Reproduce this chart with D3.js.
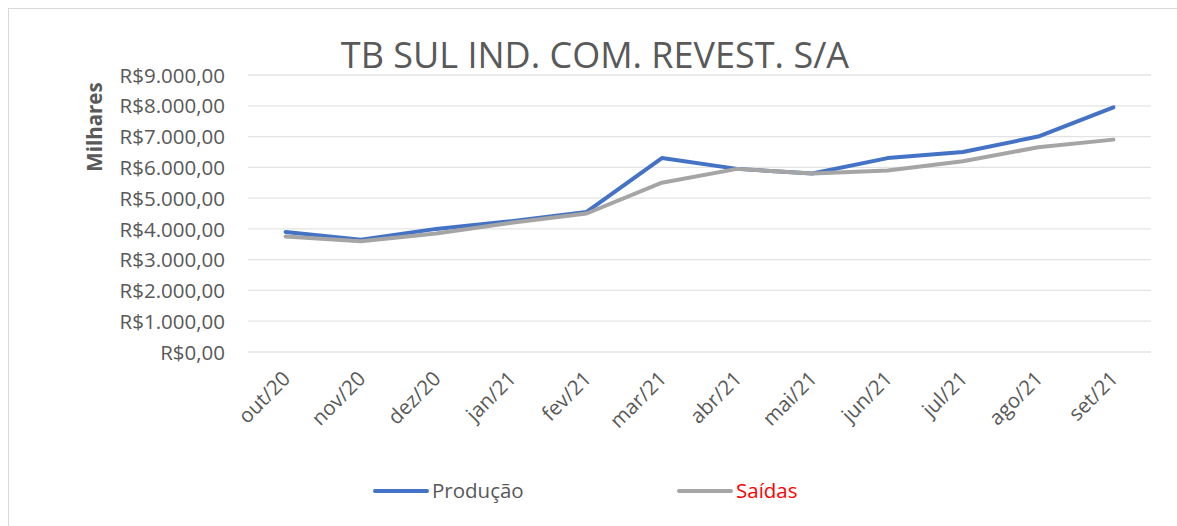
<!DOCTYPE html>
<html><head><meta charset="utf-8">
<script src="https://cdn.jsdelivr.net/npm/d3@7"></script>
<style>body{margin:0;background:#fff}svg{display:block}</style>
</head><body>
<svg id="c" width="1177" height="526"></svg>
<script>
const categories = ["out/20","nov/20","dez/20","jan/21","fev/21","mar/21","abr/21","mai/21","jun/21","jul/21","ago/21","set/21"];
const producao = [3900,3650,4000,4250,4550,6300,5950,5800,6300,6500,7000,7950];
const saidas   = [3750,3600,3850,4200,4500,5500,5950,5800,5900,6200,6650,6900];
const yTicks = [0,1000,2000,3000,4000,5000,6000,7000,8000,9000];
const seriesNames = ["Produção","Saídas"];
const title = "TB SUL IND. COM. REVEST. S/A";
const axisTitle = "Milhares";

const svg = d3.select("#c");
const font = "Open Sans, Noto Sans, sans-serif";
const txt = "#595959";
const fs = "20.5px";

svg.append("rect").attr("x",8.5).attr("y",8.5).attr("width",1200).attr("height",600)
  .attr("fill","#fff").attr("stroke","#d9d9d9").attr("stroke-width",1);

const x = d3.scaleBand().domain(categories).range([248,1151]);
const y = d3.scaleLinear().domain([0,9000]).range([352,75]);

const fmt = v => "R$" + d3.format(",.2f")(v).replace(/,/g,"#").replace(".",",").replace(/#/g,".");

// gridlines
svg.append("g").selectAll("line").data(yTicks).join("line")
  .attr("x1",248).attr("x2",1151).attr("y1",d=>y(d)).attr("y2",d=>y(d))
  .attr("stroke","#e3e3e3").attr("stroke-width",1.3);

// y axis
const ya = svg.append("g").attr("transform","translate(248,0)")
  .call(d3.axisLeft(y).tickValues(yTicks).tickFormat(fmt).tickSize(0).tickPadding(23));
ya.select(".domain").remove();
ya.selectAll("text").attr("fill",txt).style("font-family",font).style("font-size",fs).attr("dy","0.35em");

// x axis
const xa = svg.append("g").attr("transform","translate(0,352)")
  .call(d3.axisBottom(x).tickSize(0).tickPadding(0));
xa.select(".domain").remove();
xa.selectAll("text").attr("fill",txt).style("font-family",font).style("font-size",fs)
  .attr("text-anchor","end").attr("dy",0).attr("y",0)
  .attr("transform","translate(6,28) rotate(-45)");

// lines
const line = d3.line().x((d,i)=>x(categories[i])+x.bandwidth()/2).y(d=>y(d));
svg.append("path").datum(producao).attr("d",line).attr("fill","none")
  .attr("stroke","#4472C4").attr("stroke-width",4).attr("stroke-linejoin","round").attr("stroke-linecap","round");
svg.append("path").datum(saidas).attr("d",line).attr("fill","none")
  .attr("stroke","#A5A5A5").attr("stroke-width",4).attr("stroke-linejoin","round").attr("stroke-linecap","round");

// title
svg.append("text").attr("x",595).attr("y",68).attr("text-anchor","middle")
  .attr("fill",txt).style("font-family",font).style("font-size","36px").text(title);

// axis title
svg.append("text").attr("transform","translate(102,127) rotate(-90)").attr("text-anchor","middle")
  .attr("fill",txt).style("font-family",font).style("font-size",fs).style("font-weight","bold").text(axisTitle);

// legend
const legend = [{name:seriesNames[0],color:"#4472C4",tc:txt,x:375},{name:seriesNames[1],color:"#A5A5A5",tc:"#FF0000",x:679}];
const lg = svg.append("g").selectAll("g").data(legend).join("g");
lg.append("line").attr("x1",d=>d.x).attr("x2",d=>d.x+52).attr("y1",491).attr("y2",491)
  .attr("stroke",d=>d.color).attr("stroke-width",4).attr("stroke-linecap","round");
lg.append("text").attr("x",d=>d.x+57).attr("y",491).attr("dy","0.35em")
  .attr("fill",d=>d.tc).style("font-family",font).style("font-size",fs).text(d=>d.name);
</script>
</body></html>
